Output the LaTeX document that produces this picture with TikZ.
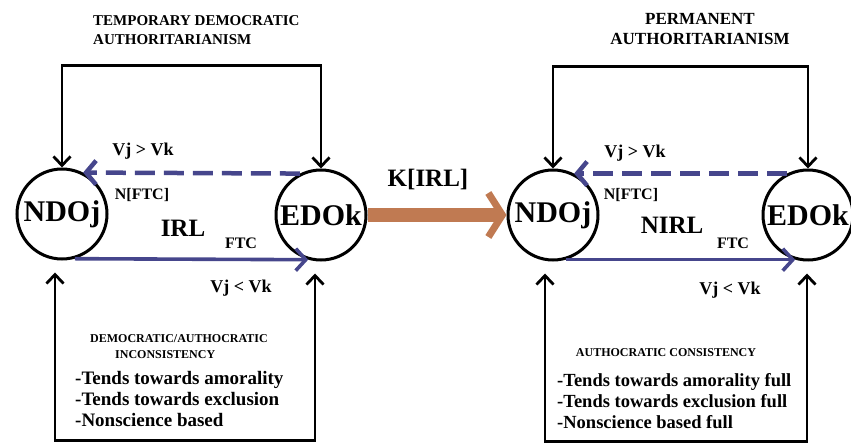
\documentclass[tikz,border=0pt]{standalone}
\usepackage{fontspec}
\setmainfont{Liberation Serif}
\usetikzlibrary{arrows.meta}
\definecolor{linkblue}{RGB}{70,70,140}
\definecolor{transfer}{RGB}{192,122,82}

\begin{document}
\begin{tikzpicture}[x=1pt,y=-1pt,
  actor/.style={draw,circle,line width=3pt,minimum size=90pt,inner sep=0pt,font=\bfseries\fontsize{30}{32}\selectfont},
  bracket/.style={line width=2.8pt,{Straight Barb[length=9pt,width=17pt]}-{Straight Barb[length=9pt,width=17pt]}},
  fwd/.style={linkblue,line width=3.6pt,-{Straight Barb[length=10pt,width=22pt]}},
  back/.style={linkblue,line width=4.5pt,dash pattern=on 20pt off 9pt,-{Straight Barb[length=10pt,width=24pt]}},
  txt/.style={inner sep=0pt,font=\bfseries\fontsize{#1}{#1}\selectfont},
  txt/.default=18]
\useasboundingbox (0,0) rectangle (851,443);

% the two actors, before and after
\node[actor] (ndoL) at (62,214) {NDOj};
\node[actor] (edoL) at (321,215) {EDOk};
\node[actor] (ndoR) at (553,215) {NDOj};
\node[actor] (edoR) at (808,215) {EDOk};

% titles
\node[txt=15,anchor=west,align=left,font=\bfseries\fontsize{15}{19}\selectfont] (tda) at (93,30) {TEMPORARY DEMOCRATIC\\AUTHORITARIANISM};
\node[txt=17,align=center,font=\bfseries\fontsize{17}{20}\selectfont] (pa) at (700,29) {PERMANENT\\AUTHORITARIANISM};

\draw[bracket] (ndoL.north) -- ++(0,-102) -| (edoL.north);
\draw[bracket] (ndoR.north) -- ++(0,-102) -| (edoR.north);
\draw[bracket] ([xshift=-7pt,yshift=-12pt]ndoL.south) -- ++(0,168) -| ([xshift=-6pt,yshift=-12pt]edoL.south);
\draw[bracket] ([xshift=-8pt,yshift=-12pt]ndoR.south) -- ++(0,168) -| ([xshift=-1pt,yshift=-12pt]edoR.south);

% relations
\draw[back] (edoL.117) -- (ndoL.63);
\draw[fwd] (ndoL.-74) -- (edoL.-106);
\draw[back] (edoR.117) -- (ndoR.63);
\draw[fwd] (ndoR.-74) -- (edoR.-106);
\draw[transfer,line width=14pt,-{Straight Barb[line width=7pt,length=14pt,width=44pt]}] (edoL.east) -- (ndoR.west);

\node[txt=18] (vgtL) at (143,151) {Vj > Vk};
\node[txt=16] (nftcL) at (142,195) {N[FTC]};
\node[txt=25] (irl) at (183,228) {IRL};
\node[txt=16] (ftcL) at (241,243) {FTC};
\node[txt=18] (vltL) at (241,288) {Vj < Vk};
\node[txt=25] (kirl) at (428,180) {K[IRL]};
\node[txt=18] (vgtR) at (635,153) {Vj > Vk};
\node[txt=16] (nftcR) at (631,195) {N[FTC]};
\node[txt=25] (nirl) at (672,225) {NIRL};
\node[txt=16] (ftcR) at (733,243) {FTC};
\node[txt=18] (vltR) at (730,290) {Vj < Vk};

% consistency blocks
\node[txt=12,anchor=west,align=left,font=\bfseries\fontsize{12}{16}\selectfont] (incL) at (90,347) {DEMOCRATIC/AUTHOCRATIC\\\hspace*{25pt}INCONSISTENCY};
\node[txt=19,anchor=west,align=left,font=\bfseries\fontsize{19}{21}\selectfont] (listL) at (75,399) {-Tends towards amorality\\-Tends towards exclusion\\-Nonscience based};
\node[txt=12] (conR) at (666,353) {AUTHOCRATIC CONSISTENCY};
\node[txt=19,anchor=west,align=left,font=\bfseries\fontsize{18.5}{21}\selectfont] (listR) at (557,401) {-Tends towards amorality full\\-Tends towards exclusion full\\-Nonscience based full};
\end{tikzpicture}
\end{document}
